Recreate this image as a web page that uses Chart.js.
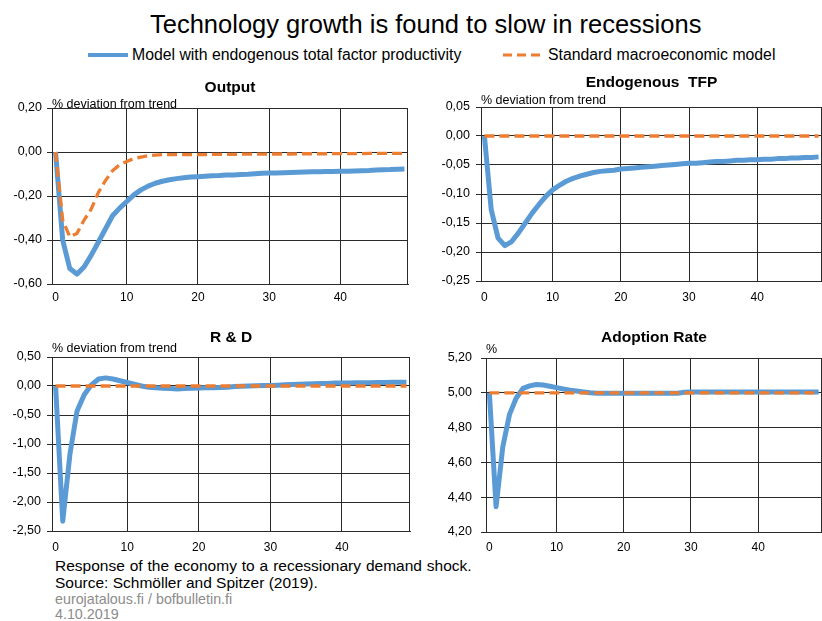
<!DOCTYPE html>
<html>
<head>
<meta charset="utf-8">
<script src="https://cdn.jsdelivr.net/npm/chart.js@4/dist/chart.umd.min.js"></script>
<style>
  body { margin: 0; background: #fff; }
  #page { position: relative; width: 822px; height: 621px; overflow: hidden; font-family: 'Liberation Sans', Arial, sans-serif; color: #000; }
  canvas, .txt, svg { position: absolute; }
  .txt { white-space: nowrap; }
</style>
</head>
<body>
<div id="page">
  <div class="txt" style="left:150px;top:10px;font-size:25.5px;line-height:28px;">Technology growth is found to slow in recessions</div>

  <svg style="left:88px;top:52px" width="40" height="6"><line x1="0" y1="3" x2="40" y2="3" stroke="#5b9bd5" stroke-width="4"/></svg>
  <div class="txt" style="left:132px;top:45px;font-size:15.8px;line-height:19px;">Model with endogenous total factor productivity</div>
  <svg style="left:503px;top:52px" width="40" height="6"><line x1="0" y1="3" x2="40" y2="3" stroke="#ed7d31" stroke-width="3" stroke-dasharray="9,5"/></svg>
  <div class="txt" style="left:548px;top:45px;font-size:15.8px;line-height:19px;">Standard macroeconomic model</div>

  <canvas id="output" width="410" height="229" style="left:0px;top:77px"></canvas>
  <canvas id="tfp" width="393" height="231" style="left:429px;top:72px"></canvas>
  <canvas id="rnd" width="412" height="226" style="left:0px;top:327px"></canvas>
  <canvas id="adoption" width="388" height="227" style="left:434px;top:327px"></canvas>

  <div class="txt" style="left:55px;top:556px;font-size:15.5px;line-height:19px;word-spacing:0.6px;">Response of the economy to a recessionary demand shock.</div>
  <div class="txt" style="left:55px;top:573px;font-size:15.5px;line-height:19px;">Source: Schmöller and Spitzer (2019).</div>
  <div class="txt" style="left:55px;top:591px;font-size:14.3px;line-height:17px;color:#8c8c8c;">eurojatalous.fi / bofbulletin.fi</div>
  <div class="txt" style="left:55px;top:606px;font-size:14.3px;line-height:17px;color:#8c8c8c;">4.10.2019</div>
</div>
<script>
// quarters after the shock
const periods = Array.from({ length: 50 }, (_, i) => String(i));
const xTicks = [0, 10, 20, 30, 40];

const outputModel = [0, -0.40, -0.53, -0.555, -0.523, -0.47, -0.41, -0.35, -0.29, -0.255,
  -0.225, -0.195, -0.172, -0.155, -0.142, -0.133, -0.126, -0.121, -0.117, -0.114,
  -0.112, -0.110, -0.108, -0.107, -0.105, -0.104, -0.102, -0.101, -0.099, -0.097,
  -0.096, -0.095, -0.094, -0.093, -0.092, -0.091, -0.090, -0.090, -0.089, -0.089,
  -0.088, -0.087, -0.086, -0.085, -0.084, -0.082, -0.081, -0.080, -0.078, -0.077];
const outputStandard = [0, -0.31, -0.385, -0.37, -0.31, -0.26, -0.185, -0.13, -0.085, -0.058,
  -0.043, -0.030, -0.023, -0.017, -0.014, -0.012, -0.012, -0.012, -0.012, -0.012,
  -0.012, -0.012, -0.011, -0.011, -0.011, -0.011, -0.010, -0.010, -0.010, -0.010,
  -0.009, -0.009, -0.009, -0.009, -0.008, -0.008, -0.008, -0.008, -0.008, -0.007,
  -0.007, -0.007, -0.007, -0.007, -0.006, -0.006, -0.006, -0.006, -0.006, -0.006];
const outputTicks = [0.2, 0, -0.2, -0.4, -0.6];

const tfpModel = [0, -0.127, -0.176, -0.189, -0.182, -0.167, -0.150, -0.133, -0.118, -0.104,
  -0.093, -0.085, -0.078, -0.073, -0.069, -0.066, -0.063, -0.061, -0.060, -0.059,
  -0.057, -0.056, -0.055, -0.054, -0.053, -0.052, -0.051, -0.050, -0.049, -0.048,
  -0.047, -0.047, -0.046, -0.045, -0.044, -0.044, -0.043, -0.042, -0.042, -0.041,
  -0.041, -0.040, -0.040, -0.039, -0.039, -0.038, -0.038, -0.037, -0.037, -0.036];
const tfpStandard = [0, 0, 0, 0, 0, 0, 0, 0, 0, 0, 0, 0, 0, 0, 0, 0, 0, 0, 0, 0, 0, 0, 0, 0, 0,
  0, 0, 0, 0, 0, 0, 0, 0, 0, 0, 0, 0, 0, 0, 0, 0, 0, 0, 0, 0, 0, 0, 0, 0, 0];
const tfpTicks = [0.05, 0, -0.05, -0.1, -0.15, -0.2, -0.25];

const rndModel = [0, -2.33, -1.18, -0.43, -0.15, 0.02, 0.12, 0.14, 0.12, 0.09,
  0.06, 0.03, 0.00, -0.02, -0.03, -0.04, -0.045, -0.05, -0.045, -0.04,
  -0.035, -0.03, -0.03, -0.025, -0.02, -0.01, -0.005, 0.0, 0.005, 0.01,
  0.01, 0.015, 0.02, 0.025, 0.03, 0.035, 0.04, 0.045, 0.045, 0.05,
  0.05, 0.05, 0.055, 0.055, 0.055, 0.06, 0.06, 0.065, 0.065, 0.065];
const rndStandard = [0, 0, 0, 0, 0, 0, 0, 0, 0, 0, 0, 0, 0, 0, 0, 0, 0, 0, 0, 0, 0, 0, 0, 0, 0,
  0, 0, 0, 0, 0, 0, 0, 0, 0, 0, 0, 0, 0, 0, 0, 0, 0, 0, 0, 0, 0, 0, 0, 0, 0];
const rndTicks = [0.5, 0, -0.5, -1, -1.5, -2, -2.5];

const adoptionModel = [5.0, 4.345, 4.69, 4.876, 4.97, 5.025, 5.04, 5.048, 5.045, 5.038,
  5.03, 5.022, 5.015, 5.01, 5.005, 5.0, 4.998, 4.998, 4.998, 4.998,
  4.998, 4.998, 4.998, 4.998, 4.998, 4.998, 4.998, 4.998, 4.998, 5.003,
  5.005, 5.005, 5.005, 5.005, 5.005, 5.005, 5.005, 5.005, 5.005, 5.005,
  5.005, 5.005, 5.005, 5.005, 5.005, 5.005, 5.005, 5.005, 5.005, 5.005];
const adoptionStandard = [5, 5, 5, 5, 5, 5, 5, 5, 5, 5, 5, 5, 5, 5, 5, 5, 5, 5, 5, 5, 5, 5, 5, 5, 5,
  5, 5, 5, 5, 5, 5, 5, 5, 5, 5, 5, 5, 5, 5, 5, 5, 5, 5, 5, 5, 5, 5, 5, 5, 5];
const adoptionTicks = [5.2, 5.0, 4.8, 4.6, 4.4, 4.2];

const BLUE = '#5b9bd5';
const ORANGE = '#ed7d31';
const GRID = '#2a2a2a';

Chart.defaults.font.family = "'Liberation Sans', Arial, sans-serif";
Chart.defaults.color = '#000';

// right edge of the plot area
const frame = {
  id: 'frame',
  beforeDatasetsDraw(chart) {
    const a = chart.chartArea;
    const c = chart.ctx;
    const x = Math.round(a.right) - 0.5;
    c.save();
    c.strokeStyle = GRID;
    c.lineWidth = 1;
    c.beginPath();
    c.moveTo(x, a.top);
    c.lineTo(x, a.bottom);
    c.stroke();
    c.restore();
  }
};

function panel(id, p) {
  const s0 = p.titleY - p.top + 9;
  const subTop = p.subY - p.top - s0 - 6.25;
  const subBottom = p.areaTop - p.top - s0 - subTop - 12.5;
  new Chart(document.getElementById(id).getContext('2d'), {
    type: 'line',
    data: {
      labels: periods,
      datasets: [
        { label: 'Standard macroeconomic model', data: p.standard, borderColor: ORANGE, borderWidth: 3.3, borderDash: [10, 5], order: 0 },
        { label: 'Model with endogenous total factor productivity', data: p.model, borderColor: BLUE, borderWidth: 5, order: 1 }
      ]
    },
    options: {
      responsive: false,
      animation: false,
      layout: { padding: { left: 0, right: p.padRight, top: 0, bottom: 0 } },
      elements: { point: { radius: 0 }, line: { tension: 0, borderJoinStyle: 'round' } },
      plugins: {
        legend: { display: false },
        tooltip: { enabled: false },
        title: {
          display: true, text: p.title, fullSize: false, color: '#000',
          font: { size: 15.5, weight: 'bold', lineHeight: 18 / 15.5 },
          padding: { top: p.titleY - p.top - 9, bottom: 0 }
        },
        subtitle: {
          display: true, text: p.unit, fullSize: false, align: 'start', color: '#000',
          font: { size: 12.5, lineHeight: 1 },
          padding: { top: subTop, bottom: subBottom }
        }
      },
      scales: {
        x: {
          offset: true,
          afterBuildTicks: s => { s.ticks = xTicks.map(v => ({ value: v })); },
          afterFit: s => { s.height = 22; },
          grid: { color: c => (c.tick && c.tick.value === 0 ? 'rgba(0,0,0,0)' : GRID), drawTicks: false, offset: false },
          border: { color: GRID },
          ticks: { font: { size: 12 }, padding: p.xLabelY - p.areaBottom - 7, maxRotation: 0, autoSkip: false }
        },
        y: {
          min: p.ticks[p.ticks.length - 1],
          max: p.ticks[0],
          afterBuildTicks: s => { s.ticks = p.ticks.map(v => ({ value: v })); },
          afterFit: s => { s.width = p.areaLeft - p.left; },
          grid: { color: GRID, tickLength: 5 },
          border: { color: GRID },
          ticks: { font: { size: 12.5 }, padding: p.yGap - 5, callback: v => v.toFixed(2).replace('.', ',') }
        }
      }
    },
    plugins: [frame]
  });
}

panel('output', { title: 'Output', unit: '% deviation from trend', model: outputModel, standard: outputStandard, ticks: outputTicks,
  left: 0, top: 77, areaLeft: 52, areaTop: 108, areaBottom: 282, padRight: 2, titleY: 88, subY: 105, xLabelY: 295.5, yGap: 10 });
panel('tfp', { title: 'Endogenous  TFP', unit: '% deviation from trend', model: tfpModel, standard: tfpStandard, ticks: tfpTicks,
  left: 429, top: 72, areaLeft: 481, areaTop: 107, areaBottom: 279, padRight: 0, titleY: 83, subY: 101, xLabelY: 295, yGap: 11 });
panel('rnd', { title: 'R & D', unit: '% deviation from trend', model: rndModel, standard: rndStandard, ticks: rndTicks,
  left: 0, top: 327, areaLeft: 52, areaTop: 357, areaBottom: 529, padRight: 2, titleY: 338, subY: 349, xLabelY: 545.7, yGap: 11 });
panel('adoption', { title: 'Adoption Rate', unit: '%', model: adoptionModel, standard: adoptionStandard, ticks: adoptionTicks,
  left: 434, top: 327, areaLeft: 486, areaTop: 358, areaBottom: 530, padRight: 0, titleY: 337.7, subY: 350, xLabelY: 545.7, yGap: 14 });
</script>
</body>
</html>
